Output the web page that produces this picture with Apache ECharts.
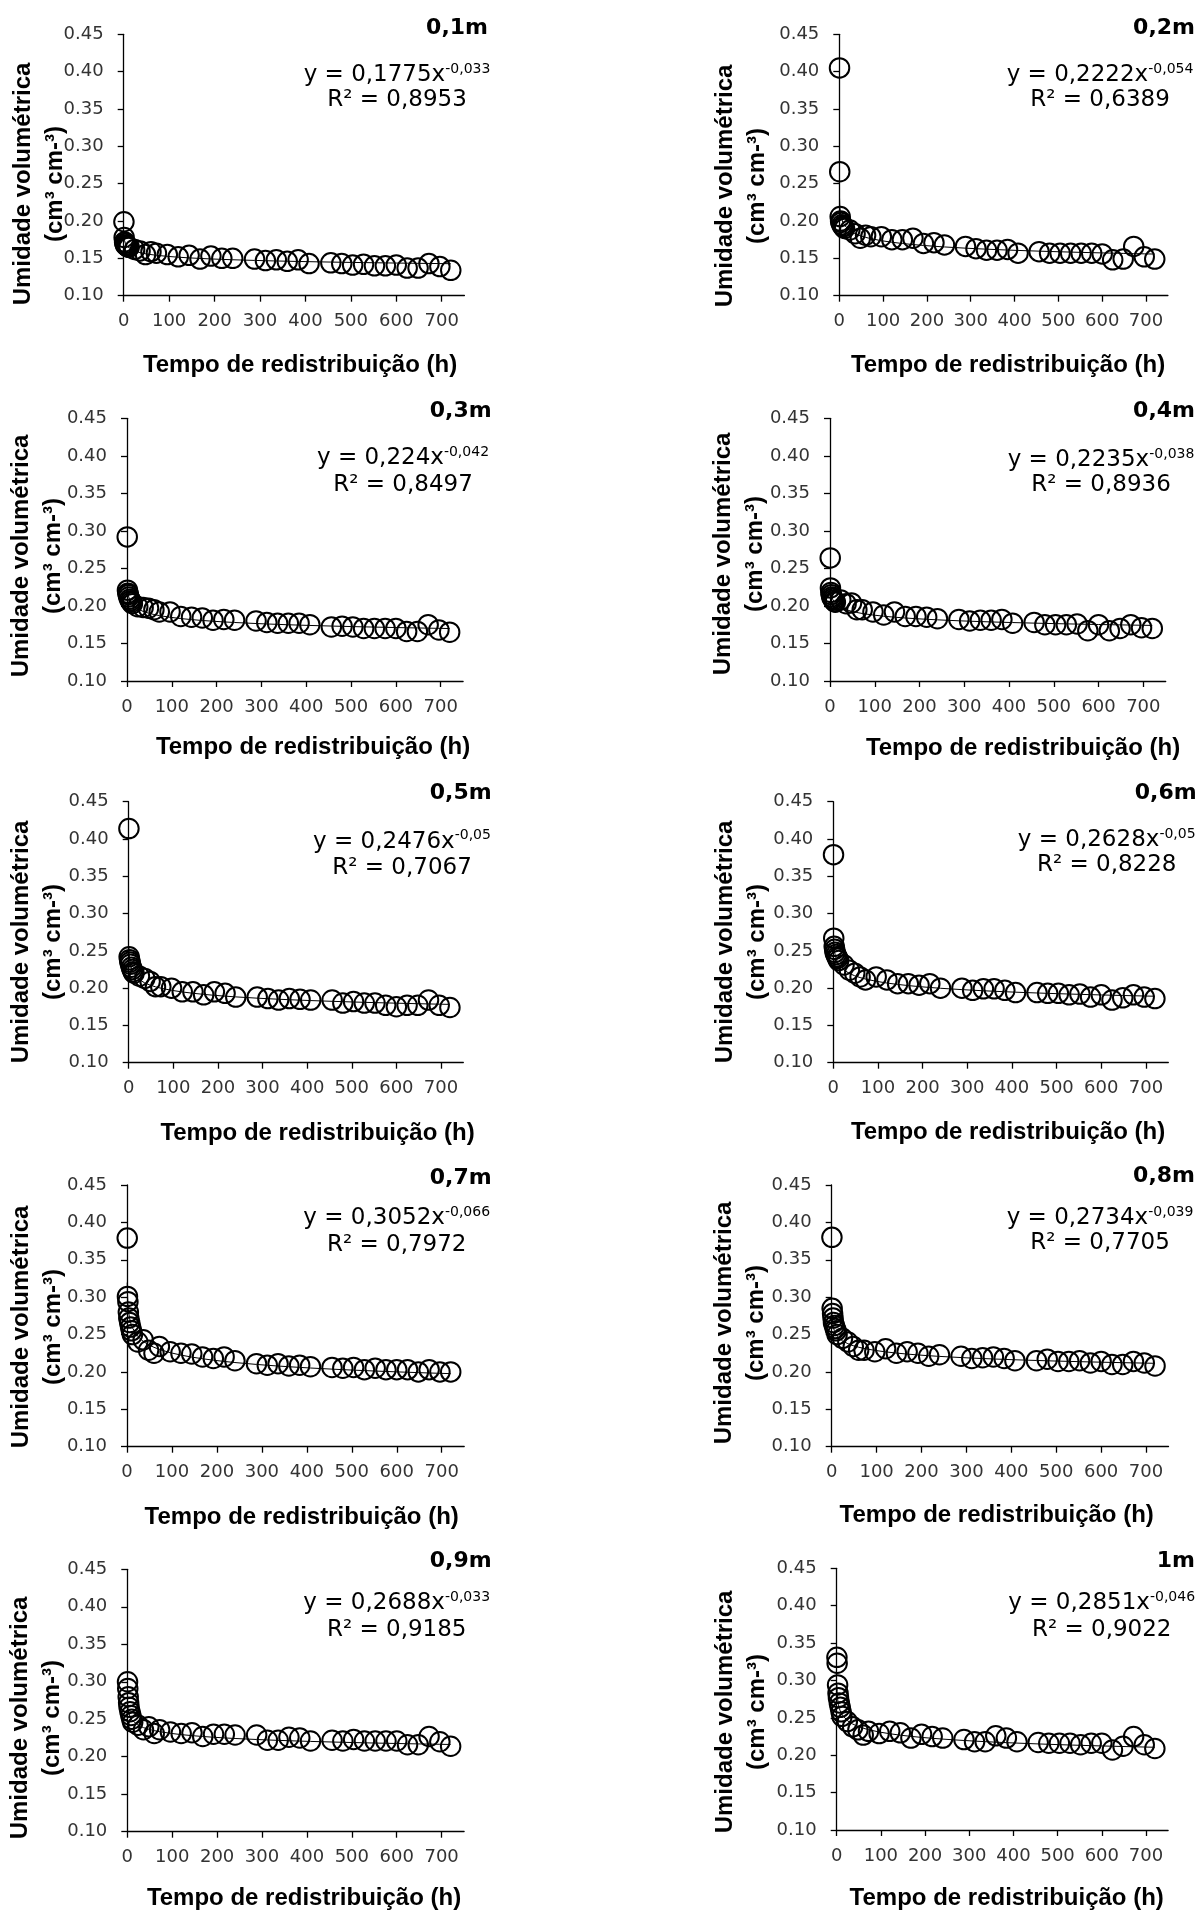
<!DOCTYPE html>
<html>
<head>
<meta charset="utf-8">
<script src="https://cdn.jsdelivr.net/npm/echarts@6/dist/echarts.min.js"></script>
<style>
  html, body { margin: 0; padding: 0; background: #fff; }
  #chart { width: 1201px; height: 1914px; }
</style>
</head>
<body>
<div id="chart"></div>
<script>
// Redistribution time (h) of each reading
const hours = [0.5, 1, 2, 3, 4, 6, 8, 10, 12, 24, 36, 48, 60, 72, 96, 120, 144, 168, 192, 216, 240,
  288, 312, 336, 360, 384, 408, 456, 480, 504, 528, 552, 576, 600, 624, 648, 672, 696, 720];

// Volumetric water content (cm3 cm-3) at each depth
const theta_0_1m = [0.199, 0.178, 0.172, 0.170, 0.168, 0.167, 0.166, 0.165, 0.165, 0.162, 0.160, 0.155, 0.159, 0.157,
  0.155, 0.152, 0.154, 0.149, 0.153, 0.150, 0.150, 0.149, 0.147, 0.148, 0.146, 0.148, 0.143,
  0.144, 0.143, 0.141, 0.142, 0.140, 0.140, 0.141, 0.137, 0.137, 0.143, 0.139, 0.134];
const theta_0_2m = [0.405, 0.266, 0.206, 0.200, 0.198, 0.195, 0.193, 0.192, 0.190, 0.188, 0.183, 0.177, 0.181, 0.179,
  0.179, 0.175, 0.175, 0.177, 0.170, 0.171, 0.168, 0.166, 0.163, 0.161, 0.161, 0.162, 0.157,
  0.159, 0.157, 0.157, 0.157, 0.157, 0.157, 0.156, 0.148, 0.149, 0.166, 0.152, 0.149];
const theta_0_3m = [0.292, 0.221, 0.217, 0.215, 0.212, 0.209, 0.207, 0.205, 0.203, 0.199, 0.198, 0.197, 0.195, 0.192,
  0.192, 0.186, 0.185, 0.184, 0.181, 0.182, 0.181, 0.180, 0.178, 0.177, 0.177, 0.177, 0.175,
  0.172, 0.173, 0.172, 0.170, 0.170, 0.170, 0.170, 0.166, 0.166, 0.175, 0.168, 0.165];
const theta_0_4m = [0.264, 0.224, 0.218, 0.215, 0.212, 0.210, 0.208, 0.206, 0.205, 0.208, 0.203, 0.204, 0.195, 0.195,
  0.192, 0.188, 0.192, 0.186, 0.186, 0.185, 0.183, 0.182, 0.180, 0.181, 0.181, 0.182, 0.177,
  0.178, 0.175, 0.175, 0.175, 0.176, 0.167, 0.175, 0.167, 0.170, 0.175, 0.171, 0.170];
const theta_0_5m = [0.414, 0.242, 0.238, 0.235, 0.232, 0.228, 0.225, 0.222, 0.220, 0.216, 0.213, 0.209, 0.202, 0.202,
  0.200, 0.195, 0.195, 0.191, 0.195, 0.193, 0.188, 0.188, 0.186, 0.184, 0.186, 0.185, 0.184,
  0.184, 0.180, 0.182, 0.180, 0.180, 0.177, 0.175, 0.177, 0.177, 0.184, 0.177, 0.174];
const theta_0_6m = [0.379, 0.267, 0.256, 0.252, 0.248, 0.245, 0.242, 0.240, 0.237, 0.231, 0.224, 0.220, 0.215, 0.211,
  0.215, 0.211, 0.206, 0.206, 0.204, 0.206, 0.200, 0.200, 0.197, 0.199, 0.199, 0.197, 0.194,
  0.194, 0.193, 0.193, 0.191, 0.192, 0.188, 0.191, 0.184, 0.187, 0.191, 0.188, 0.186];
const theta_0_7m = [0.379, 0.301, 0.294, 0.280, 0.272, 0.266, 0.260, 0.255, 0.250, 0.240, 0.243, 0.229, 0.225, 0.234,
  0.227, 0.225, 0.224, 0.220, 0.218, 0.220, 0.215, 0.211, 0.209, 0.211, 0.208, 0.209, 0.207,
  0.206, 0.205, 0.206, 0.203, 0.205, 0.203, 0.203, 0.203, 0.200, 0.203, 0.200, 0.200];
const theta_0_8m = [0.380, 0.285, 0.278, 0.272, 0.266, 0.262, 0.258, 0.255, 0.250, 0.245, 0.240, 0.234, 0.229, 0.229,
  0.227, 0.231, 0.225, 0.227, 0.225, 0.221, 0.223, 0.221, 0.218, 0.219, 0.220, 0.218, 0.215,
  0.215, 0.217, 0.214, 0.214, 0.215, 0.212, 0.214, 0.210, 0.210, 0.214, 0.212, 0.208];
const theta_0_9m = [0.300, 0.291, 0.280, 0.272, 0.266, 0.260, 0.255, 0.250, 0.246, 0.242, 0.236, 0.240, 0.231, 0.236,
  0.233, 0.231, 0.232, 0.227, 0.230, 0.230, 0.229, 0.229, 0.222, 0.222, 0.226, 0.225, 0.221,
  0.222, 0.221, 0.223, 0.221, 0.221, 0.221, 0.221, 0.216, 0.216, 0.227, 0.220, 0.214];
const theta_1_0m = [0.331, 0.323, 0.294, 0.283, 0.277, 0.270, 0.264, 0.258, 0.252, 0.245, 0.238, 0.234, 0.227, 0.232,
  0.229, 0.232, 0.230, 0.223, 0.228, 0.225, 0.223, 0.221, 0.218, 0.218, 0.226, 0.223, 0.218,
  0.217, 0.216, 0.216, 0.216, 0.214, 0.216, 0.216, 0.207, 0.212, 0.225, 0.214, 0.209];

const depthLabels = ['0,1m', '0,2m', '0,3m', '0,4m', '0,5m', '0,6m', '0,7m', '0,8m', '0,9m', '1m'];

// Power fits y = a * x^b and their R²
const fitA = [0.1775, 0.2222, 0.224, 0.2235, 0.2476, 0.2628, 0.3052, 0.2734, 0.2688, 0.2851];
const fitB = [-0.033, -0.054, -0.042, -0.038, -0.05, -0.05, -0.066, -0.039, -0.033, -0.046];
const fitR2 = [0.8953, 0.6389, 0.8497, 0.8936, 0.7067, 0.8228, 0.7972, 0.7705, 0.9185, 0.9022];

const xTickValues = [0, 100, 200, 300, 400, 500, 600, 700];

const moisture = [theta_0_1m, theta_0_2m, theta_0_3m, theta_0_4m, theta_0_5m,
  theta_0_6m, theta_0_7m, theta_0_8m, theta_0_9m, theta_1_0m];

// Page layout of the ten panels (pixels)
const panelLayout = [
  { grid: [123.7, 34.3, 340.7, 261.4], title: [488, 28], eq: [397, 75, 100], yName: [39, 184], xName: [300, 365] },
  { grid: [839.3, 34.3, 328.6, 261.4], title: [1195, 28], eq: [1100, 75, 100], yName: [741, 186], xName: [1008, 365] },
  { grid: [127, 418.3, 336.1, 262.7], title: [491.7, 411.7], eq: [403, 458.3, 485], yName: [37.5, 556], xName: [313, 747] },
  { grid: [830, 418.3, 335.7, 262.7], title: [1195, 411.7], eq: [1101, 460, 485], yName: [739, 554], xName: [1023, 748] },
  { grid: [128.7, 801.7, 334.6, 261], title: [491.7, 793.3], eq: [402, 841.7, 868.3], yName: [37.5, 942], xName: [317.5, 1133] },
  { grid: [833.3, 801.7, 335, 261], title: [1196.7, 793.3], eq: [1106.7, 840, 865], yName: [741.7, 942], xName: [1008, 1132] },
  { grid: [127, 1185, 337.2, 261.7], title: [491.7, 1178.3], eq: [396.7, 1218.3, 1245], yName: [37.5, 1327], xName: [301.7, 1517] },
  { grid: [831.7, 1185, 336.8, 261.7], title: [1195, 1176.7], eq: [1100, 1218.3, 1243.3], yName: [740, 1323], xName: [996.7, 1515] },
  { grid: [127.3, 1569.3, 336.8, 262.4], title: [491.7, 1561.7], eq: [396.7, 1603.3, 1630], yName: [36.7, 1718], xName: [304, 1898] },
  { grid: [836.7, 1568.3, 331.4, 261.7], title: [1195, 1561.7], eq: [1101.7, 1603.3, 1630], yName: [741.7, 1712], xName: [1006.7, 1898] }
];

const TICK_FONT = 'DejaVu Sans';
const TITLE_FONT = 'Liberation Sans';
const comma = v => String(v).replace('.', ',');

const grids = [], xAxes = [], yAxes = [], series = [], graphics = [];

panelLayout.forEach((p, i) => {
  const [left, top, width, height] = p.grid;
  grids.push({ left, top, width, height, containLabel: false, outerBoundsMode: 'none' });

  const axisLine = { show: true, onZero: false, lineStyle: { color: '#000', width: 1.3 } };
  const axisTick = { show: true, length: 6, lineStyle: { color: '#000', width: 1.3 } };
  const labelStyle = { fontFamily: TICK_FONT, fontSize: 18, color: '#333' };

  xAxes.push({
    gridIndex: i, type: 'value', min: 0, max: 750,
    axisLine,
    axisTick: Object.assign({ customValues: xTickValues }, axisTick),
    axisLabel: Object.assign({ customValues: xTickValues, margin: 17 }, labelStyle),
    splitLine: { show: false }
  });
  yAxes.push({
    gridIndex: i, type: 'value', min: 0.10, max: 0.45, interval: 0.05,
    axisLine,
    axisTick,
    axisLabel: Object.assign({ margin: 20, formatter: v => v.toFixed(2) }, labelStyle),
    splitLine: { show: false }
  });

  // fitted power curve, evaluated at the measurement times
  series.push({
    type: 'line', xAxisIndex: i, yAxisIndex: i, z: 1,
    data: hours.map(h => [h, fitA[i] * Math.pow(h, fitB[i])]),
    showSymbol: false, symbol: 'none', silent: true,
    lineStyle: { color: '#000', width: 1 }
  });
  // measured points
  series.push({
    type: 'scatter', xAxisIndex: i, yAxisIndex: i, z: 2,
    data: hours.map((h, k) => [h, moisture[i][k]]),
    symbol: 'circle', symbolSize: 19.5,
    itemStyle: { color: 'rgba(0,0,0,0)', borderColor: '#000', borderWidth: 2, opacity: 1 }
  });

  // depth label
  graphics.push({
    type: 'text', x: p.title[0], y: p.title[1], silent: true,
    style: { text: depthLabels[i], fontFamily: TICK_FONT, fontWeight: 'bold', fontSize: 22,
             fill: '#000', align: 'right', verticalAlign: 'middle' }
  });
  // fit equation
  graphics.push({
    type: 'text', x: p.eq[0], y: p.eq[1], silent: true,
    style: {
      text: '{m|y = ' + comma(fitA[i]) + 'x}{s|' + comma(fitB[i]) + '}',
      align: 'center', verticalAlign: 'middle',
      rich: {
        m: { fontFamily: TICK_FONT, fontSize: 23, fill: '#000', color: '#000', lineHeight: 26 },
        s: { fontFamily: TICK_FONT, fontSize: 14, fill: '#000', color: '#000', verticalAlign: 'top', lineHeight: 16 }
      }
    }
  });
  graphics.push({
    type: 'text', x: p.eq[0], y: p.eq[2], silent: true,
    style: { text: 'R² = ' + comma(fitR2[i]), fontFamily: TICK_FONT, fontSize: 23,
             fill: '#000', align: 'center', verticalAlign: 'middle' }
  });
  // axis titles
  graphics.push({
    type: 'text', x: p.yName[0], y: p.yName[1], rotation: Math.PI / 2, silent: true,
    style: { text: 'Umidade volumétrica\n(cm³ cm-³)', fontFamily: TITLE_FONT, fontWeight: 'bold',
             fontSize: 24, lineHeight: 32, fill: '#000', align: 'center', verticalAlign: 'middle' }
  });
  graphics.push({
    type: 'text', x: p.xName[0], y: p.xName[1], silent: true,
    style: { text: 'Tempo de redistribuição (h)', fontFamily: TITLE_FONT, fontWeight: 'bold',
             fontSize: 24, fill: '#000', align: 'center', verticalAlign: 'middle' }
  });
});

const chart = echarts.init(document.getElementById('chart'), null, { renderer: 'canvas' });
chart.setOption({
  animation: false,
  backgroundColor: '#fff',
  grid: grids,
  xAxis: xAxes,
  yAxis: yAxes,
  series: series,
  graphic: graphics
});
</script>
</body>
</html>
